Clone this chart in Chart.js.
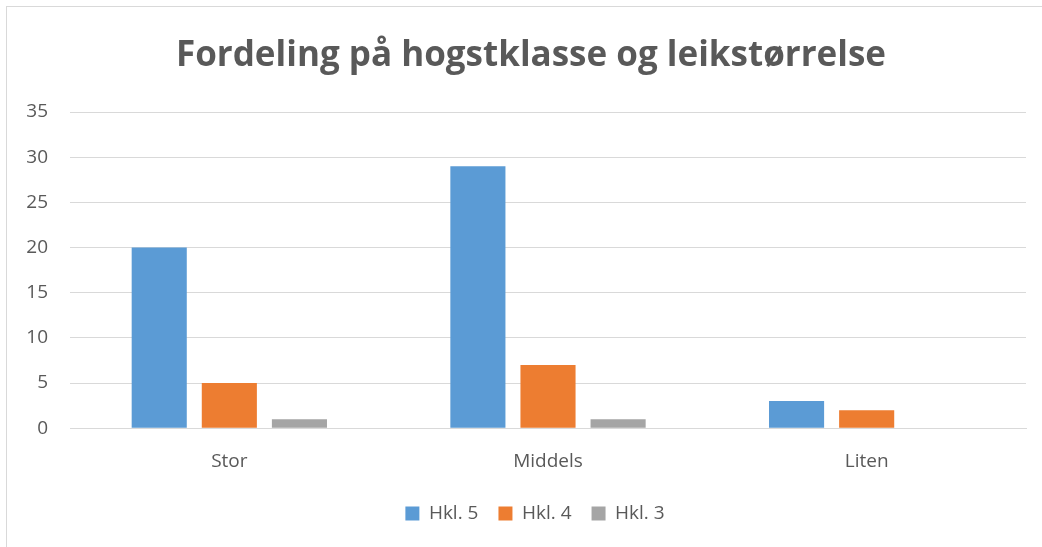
<!DOCTYPE html>
<html>
<head>
<meta charset="utf-8">
<script src="https://cdn.jsdelivr.net/npm/chart.js@4/dist/chart.umd.min.js"></script>
<style>
html,body{margin:0;padding:0;background:#fff;}
#wrap{position:absolute;left:0;top:0;width:1042px;height:547px;}
#frame{position:absolute;left:6px;top:6px;width:1100px;height:600px;border:1px solid #D9D9D9;box-sizing:border-box;}
canvas{position:absolute;left:0;top:0;}
</style>
</head>
<body>
<div id="wrap">
<div id="frame"></div>
<canvas id="c" width="1042" height="547"></canvas>
</div>
<script>
const categories = ["Stor", "Middels", "Liten"];
const seriesNames = ["Hkl. 5", "Hkl. 4", "Hkl. 3"];
const hkl5 = [20, 29, 3];
const hkl4 = [5, 7, 2];
const hkl3 = [1, 1, 0];
const yTicks = [0, 5, 10, 15, 20, 25, 30, 35];
const colors = ["#5B9BD5", "#ED7D31", "#A5A5A5"];

const txt = "#595959";

const boxShift = {
  id: "boxShift",
  afterLayout(chart) {
    const l = chart.legend;
    if (l) { l.left += 12; l.right += 12; l.top -= 3; l.bottom -= 3; }
    const t = chart.titleBlock;
    if (t) { t.left += 8; t.right += 8; }
  }
};

new Chart(document.getElementById("c"), {
  type: "bar",
  data: {
    labels: categories,
    datasets: [hkl5, hkl4, hkl3].map((d, i) => ({
      label: seriesNames[i],
      data: d,
      backgroundColor: colors[i],
      borderWidth: 0,
      categoryPercentage: 0.66,
      barPercentage: 0.786
    }))
  },
  plugins: [boxShift],
  options: {
    responsive: false,
    animation: false,
    devicePixelRatio: 1,
    layout: { padding: { left: 20, right: 16, top: 24, bottom: 11 } },
    plugins: {
      title: {
        display: true,
        text: "Fordeling på hogstklasse og leikstørrelse",
        color: txt,
        font: { family: "Open Sans", size: 35, weight: "bold" },
        padding: { top: 11, bottom: 35 }
      },
      legend: {
        position: "bottom",
        labels: {
          color: txt,
          font: { family: "Open Sans", size: 19 },
          boxWidth: 14, boxHeight: 14, padding: 20
        }
      },
      tooltip: { enabled: false }
    },
    scales: {
      x: {
        grid: { display: false },
        border: { display: true, color: "#D9D9D9" },
        ticks: { color: txt, font: { family: "Open Sans", size: 19 }, padding: 14 }
      },
      y: {
        min: 0, max: 35,
        afterBuildTicks: (s) => { s.ticks = yTicks.map(v => ({ value: v })); },
        afterFit: (s) => { s.width = 50; },
        grid: { color: "#D9D9D9", lineWidth: 1, drawTicks: false },
        border: { display: false },
        ticks: { color: txt, font: { family: "Open Sans", size: 19 }, padding: 22 }
      }
    }
  }
});
</script>
</body>
</html>
